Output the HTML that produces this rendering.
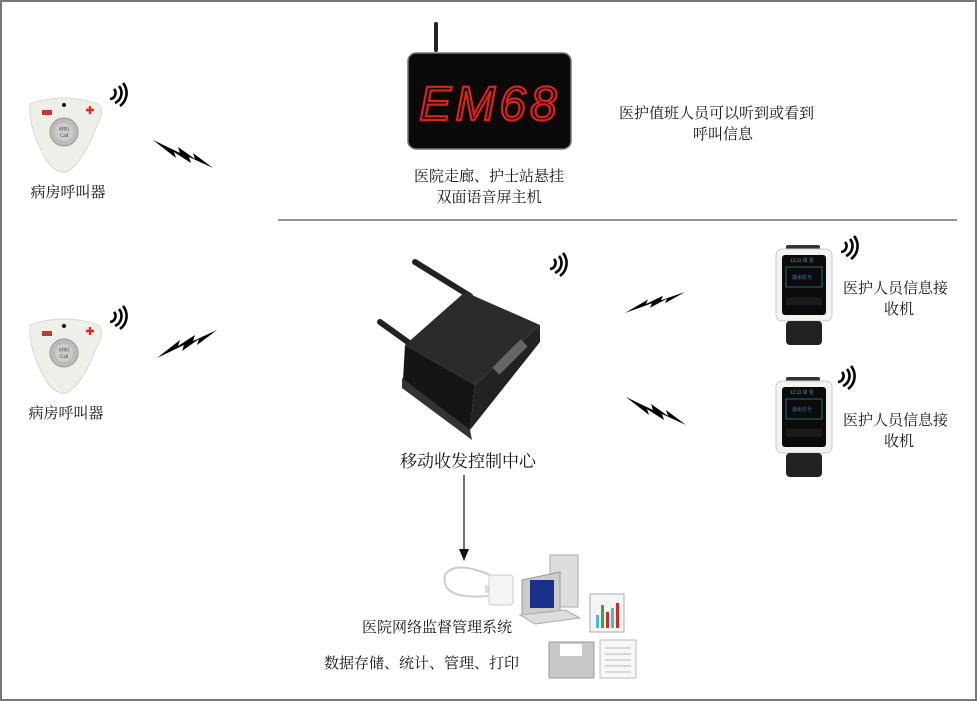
<!DOCTYPE html>
<html><head><meta charset="utf-8"><style>
html,body{margin:0;padding:0;background:#fff}
svg{display:block}
text{font-family:"Liberation Serif","Noto Serif CJK SC",serif;fill:#111}
text.led{font-family:"Liberation Sans",sans-serif;fill:none;stroke:#e0201a;stroke-width:2.2;font-style:italic;letter-spacing:4px}
</style></head><body>
<svg width="977" height="701" viewBox="0 0 977 701" xmlns="http://www.w3.org/2000/svg">
<defs>
<g id="wifi"><path d="M0,14 A6,6 0 0 0 4,4" fill="none" stroke="#000" stroke-width="2.6"/><path d="M5,18 A11,11 0 0 0 9,1" fill="none" stroke="#000" stroke-width="2.6"/><path d="M10,21 A16,16 0 0 0 13,-2" fill="none" stroke="#000" stroke-width="2.6"/></g>
<polygon id="bolt" points="0,0 27,13 25,7 42,19 40,13 60,28 36,17 38,23 21,12 23,18"/>
<g id="btn">
<path d="M4,8 Q38,-4 72,8 Q80,14 70,32 Q55,70 40,76 Q28,78 18,60 Q2,30 4,8Z" fill="#efefea" stroke="#d8d8d0"/>
<circle cx="38" cy="36" r="14" fill="#bbb" stroke="#999"/><circle cx="38" cy="36" r="9" fill="#ccc"/>
<text x="33" y="35" font-size="5" style="fill:#333">呼叫</text><text x="34" y="41" font-size="5" style="fill:#333">Call</text>
<rect x="16" y="14" width="10" height="5" fill="#c33"/><circle cx="38" cy="9" r="2" fill="#111"/>
<path d="M60,14h8M64,10v8" stroke="#e22" stroke-width="2.4"/>
</g>
<g id="watch">
<rect x="12" y="0" width="34" height="6" rx="2" fill="#333"/>
<rect x="2" y="4" width="56" height="72" rx="6" fill="#f2f2ee" stroke="#ccc"/>
<rect x="8" y="10" width="44" height="60" rx="3" fill="#0b0b0b"/>
<rect x="12" y="22" width="36" height="20" fill="none" stroke="#2a6a7a"/>
<text x="16" y="17" font-size="5" style="fill:#7ac">12:22 周 星</text>
<text x="18" y="34" font-size="5" style="fill:#4af">设床位号</text>
<rect x="12" y="52" width="36" height="8" fill="#1a1a1a"/>
<rect x="12" y="76" width="36" height="24" rx="4" fill="#222"/>
</g>
</defs>
<rect x="1" y="1" width="975" height="699" fill="#fff" stroke="#777" stroke-width="2"/>
<line x1="278" y1="220" x2="957" y2="220" stroke="#555" stroke-width="1.2"/>

<use href="#btn" x="26" y="96"/>
<use href="#wifi" x="110" y="85"/>
<text x="68" y="197" font-size="15" text-anchor="middle">病房呼叫器</text>
<use href="#bolt" transform="translate(153,140)"/>
<use href="#btn" x="26" y="317"/>
<use href="#wifi" x="110" y="308"/>
<text x="66" y="418" font-size="15" text-anchor="middle">病房呼叫器</text>
<use href="#bolt" transform="translate(157,358) scale(1,-1)"/>

<rect x="434" y="22" width="4" height="30" rx="2" fill="#222"/>
<rect x="408" y="53" width="163" height="96" rx="8" fill="#0a0a0a" stroke="#777" stroke-width="1.5"/>
<text class="led" x="490" y="120" font-size="48" text-anchor="middle">EM68</text>
<text x="489" y="181" font-size="15" text-anchor="middle">医院走廊、护士站悬挂</text>
<text x="489" y="202" font-size="15" text-anchor="middle">双面语音屏主机</text>
<text x="619" y="118" font-size="15">医护值班人员可以听到或看到</text>
<text x="723" y="139" font-size="15" text-anchor="middle">呼叫信息</text>

<line x1="380" y1="322" x2="412" y2="345" stroke="#222" stroke-width="6" stroke-linecap="round"/>
<line x1="415" y1="262" x2="470" y2="296" stroke="#222" stroke-width="6" stroke-linecap="round"/>
<polygon points="405,345 465,292 540,325 475,385" fill="#2b2b2b"/>
<polygon points="405,345 475,385 470,430 403,380" fill="#151515"/>
<polygon points="475,385 540,325 540,342 470,430" fill="#222"/>
<polygon points="402,378 470,430 472,440 402,388" fill="#333"/>
<rect x="490" y="352" width="40" height="10" fill="#666" transform="rotate(-45 510 357)"/>
<use href="#wifi" x="550" y="255"/>
<text x="468" y="467" font-size="17" text-anchor="middle">移动收发控制中心</text>
<use href="#bolt" transform="translate(625,313) scale(1,-0.75)"/>
<use href="#bolt" transform="translate(626,397)"/>

<use href="#watch" x="774" y="245"/>
<use href="#wifi" x="841" y="238"/>
<text x="843" y="293" font-size="15">医护人员信息接</text>
<text x="899" y="314" font-size="15" text-anchor="middle">收机</text>
<use href="#watch" x="774" y="377"/>
<use href="#wifi" x="838" y="368"/>
<text x="843" y="425" font-size="15">医护人员信息接</text>
<text x="899" y="446" font-size="15" text-anchor="middle">收机</text>

<line x1="464" y1="475" x2="464" y2="550" stroke="#111" stroke-width="1.2"/>
<polygon points="459,549 469,549 464,561" fill="#111"/>

<path d="M488,596 Q440,600 445,575 Q455,560 490,575 Q505,585 500,590" fill="none" stroke="#ccc" stroke-width="2"/>
<rect x="485" y="585" width="14" height="8" fill="#ddd"/>
<rect x="489" y="575" width="24" height="30" rx="3" fill="#f4f4f4" stroke="#ccc"/>
<rect x="550" y="555" width="28" height="52" fill="#ddd" stroke="#aaa"/>
<polygon points="522,580 560,572 560,614 522,615" fill="#ccc" stroke="#999"/>
<rect x="530" y="580" width="24" height="28" fill="#1a2f8a"/>
<polygon points="520,615 565,610 580,618 535,624" fill="#ddd" stroke="#aaa"/>
<rect x="590" y="594" width="34" height="38" fill="#f4f4f4" stroke="#aaa"/>
<rect x="596" y="615" width="3" height="13" fill="#4bd"/><rect x="601" y="605" width="3" height="23" fill="#3a3"/><rect x="606" y="612" width="3" height="16" fill="#d22"/><rect x="611" y="608" width="3" height="20" fill="#4bd"/><rect x="616" y="603" width="3" height="25" fill="#d22"/>
<text x="362" y="632" font-size="15">医院网络监督管理系统</text>
<text x="324" y="668" font-size="15">数据存储、统计、管理、打印</text>
<rect x="549" y="642" width="45" height="36" fill="#c8c8c8" stroke="#999"/>
<rect x="560" y="644" width="22" height="12" fill="#fff"/>
<rect x="600" y="640" width="36" height="38" fill="#f7f7f7" stroke="#bbb"/>
<path d="M605,648h26M605,654h26M605,660h26M605,666h26M605,672h26" stroke="#bbb"/>
</svg>
</body></html>
